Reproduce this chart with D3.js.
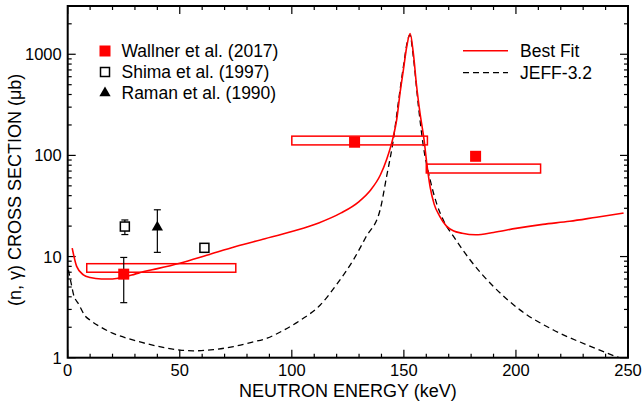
<!DOCTYPE html>
<html>
<head>
<meta charset="utf-8">
<script src="https://cdn.jsdelivr.net/npm/d3@7"></script>
<style>
body { margin: 0; background: white; }
text { font-family: "Liberation Sans", Arial, sans-serif; fill: black; }
</style>
</head>
<body>
<div id="plot"></div>
<script>
// Wallner et al. (2017) points + energy bins
var wallnerE = [25, 128, 182];
var wallnerS = [6.7, 135, 98];
var wallnerLo = [3.5, null, null];
var wallnerHi = [9.8, null, null];
var binELo = [8.5, 100, 160];
var binEHi = [75, 160.5, 211];
var binSLo = [7.0, 127, 67];
var binSHi = [8.5, 155, 82];

// Shima et al. (1997)
var shimaE = [25.5, 61];
var shimaS = [19.8, 12.2];
var shimaLo = [16.5, 11.4];
var shimaHi = [23, 13.0];

// Raman et al. (1990)
var ramanE = [40];
var ramanS = [19.5];
var ramanLo = [11];
var ramanHi = [29];

// Best Fit curve
var fitE = [2, 4, 7, 10, 15, 20, 25, 30, 34, 40, 50, 62, 75, 88, 100, 112, 122, 130, 135, 139.5, 142.3, 145.3, 146.8, 148.3, 149.8, 151.3, 152.8, 154.2, 155.7, 157.2, 159, 160.2, 161.7, 163.5, 166, 169, 172, 176, 182, 190, 200, 212, 224, 236, 248];
var fitS = [12.1, 8.0, 6.6, 6.2, 6.0, 6.0, 6.25, 6.7, 7.1, 7.6, 8.6, 10.3, 12.6, 15, 17.7, 21.5, 27, 35, 45, 64, 91, 154, 226, 415, 705, 1200, 1603, 1030, 480, 262, 143, 84, 49, 33, 25, 20, 18, 17, 16.4, 17.3, 19, 20.8, 22.3, 24.5, 26.9];

// JEFF-3.2 evaluation
var jeffE = [0.3, 1.5, 2.5, 5, 7.7, 10, 14.4, 20, 29, 40, 50, 56, 65, 74, 82, 89, 96, 104, 112.6, 120, 127.5, 133, 139.4, 142.3, 145.3, 147.5, 149.8, 152, 152.7, 154.2, 156.5, 158.7, 161.7, 164.7, 168, 172, 179.5, 190, 201.8, 216.7, 231.6, 245, 250];
var jeffS = [7.4, 5.5, 4.3, 3.35, 2.6, 2.35, 2.03, 1.75, 1.5, 1.3, 1.19, 1.17, 1.2, 1.29, 1.42, 1.56, 1.85, 2.36, 3.3, 5.3, 9.3, 15.5, 29, 62, 143, 330, 760, 1460, 1550, 950, 305, 123, 57.5, 33, 22, 16, 9.3, 5.05, 2.97, 1.88, 1.34, 1.02, 0.93];

var xTicks = [0, 50, 100, 150, 200, 250];
var yTicks = [1, 10, 100, 1000];

var W = 642, H = 403;
var pLeft = 67.7, pRight = 628, pTop = 6, pBottom = 357.7;
var red = "#ff0000";

var svg = d3.select("#plot").append("svg")
    .attr("width", W)
    .attr("height", H);

var x = d3.scaleLinear().domain([0, 250]).range([pLeft, pRight]);
var y = d3.scaleLog().domain([1, 3000]).range([pBottom, pTop]);

// minor ticks
var xMinor = d3.range(0, 251, 10).filter(function(d){ return d % 50 != 0; });
var yMinor = [];
[1, 10, 100, 1000].forEach(function(dec){
    for (var k = 2; k <= 9; k++) { if (dec * k <= 3000) yMinor.push(dec * k); }
});

var axes = svg.append("g").attr("stroke", "black").attr("stroke-width", 1.2);
// bottom + top ticks (inward)
[[pBottom, -1], [pTop, 1]].forEach(function(s){
    axes.append("g").selectAll("line").data(xTicks).enter().append("line")
        .attr("x1", function(d){ return x(d); }).attr("x2", function(d){ return x(d); })
        .attr("y1", s[0]).attr("y2", s[0] + s[1] * 8);
    axes.append("g").selectAll("line").data(xMinor).enter().append("line")
        .attr("x1", function(d){ return x(d); }).attr("x2", function(d){ return x(d); })
        .attr("y1", s[0]).attr("y2", s[0] + s[1] * 4);
});
// left + right ticks
[[pLeft, 1], [pRight, -1]].forEach(function(s){
    axes.append("g").selectAll("line").data(yTicks).enter().append("line")
        .attr("x1", s[0]).attr("x2", s[0] + s[1] * 8)
        .attr("y1", function(d){ return y(d); }).attr("y2", function(d){ return y(d); });
    axes.append("g").selectAll("line").data(yMinor).enter().append("line")
        .attr("x1", s[0]).attr("x2", s[0] + s[1] * 4)
        .attr("y1", function(d){ return y(d); }).attr("y2", function(d){ return y(d); });
});

// tick labels
svg.append("g").selectAll("text").data(xTicks).enter().append("text")
    .attr("x", function(d){ return x(d); })
    .attr("y", pBottom + 18)
    .attr("text-anchor", "middle")
    .style("font-size", "16.5px")
    .text(function(d){ return d; });
svg.append("g").selectAll("text").data(yTicks).enter().append("text")
    .attr("x", pLeft - 6)
    .attr("y", function(d){ return y(d) + 6; })
    .attr("text-anchor", "end")
    .style("font-size", "16.5px")
    .text(function(d){ return d; });

// axis titles
svg.append("text")
    .attr("x", (pLeft + pRight) / 2).attr("y", 397)
    .attr("text-anchor", "middle")
    .style("font-size", "18px")
    .text("NEUTRON ENERGY (keV)");
svg.append("text")
    .attr("transform", "translate(21," + ((pTop + pBottom) / 2 + 8) + ") rotate(-90)")
    .attr("text-anchor", "middle")
    .style("font-size", "18px")
    .text("(n, \u03b3) CROSS SECTION (\u03bcb)");

// clip for curves
svg.append("clipPath").attr("id", "clip")
  .append("rect").attr("x", pLeft).attr("y", pTop).attr("width", pRight - pLeft).attr("height", pBottom - pTop);

var line = d3.line()
    .x(function(d){ return x(d[0]); })
    .y(function(d){ return y(d[1]); })
    .curve(d3.curveMonotoneX);

var plot = svg.append("g").attr("clip-path", "url(#clip)");
plot.append("path")
    .datum(d3.zip(jeffE, jeffS))
    .attr("d", line)
    .attr("fill", "none")
    .attr("stroke", "black")
    .attr("stroke-width", 1.3)
    .attr("stroke-dasharray", "6,4");
plot.append("path")
    .datum(d3.zip(fitE, fitS))
    .attr("d", line)
    .attr("fill", "none")
    .attr("stroke", red)
    .attr("stroke-width", 1.6);

// energy bins of the activation data
svg.append("g").selectAll("rect").data(d3.range(binELo.length)).enter().append("rect")
    .attr("x", function(i){ return x(binELo[i]); })
    .attr("width", function(i){ return x(binEHi[i]) - x(binELo[i]); })
    .attr("y", function(i){ return y(binSHi[i]); })
    .attr("height", function(i){ return y(binSLo[i]) - y(binSHi[i]); })
    .attr("fill", "none")
    .attr("stroke", red)
    .attr("stroke-width", 1.5);

// error bars
function errorBars(E, lo, hi){
    var g = svg.append("g").attr("stroke", "black").attr("stroke-width", 1.2);
    E.forEach(function(e, i){
        if (lo[i] == null) return;
        g.append("line").attr("x1", x(e)).attr("x2", x(e)).attr("y1", y(lo[i])).attr("y2", y(hi[i]));
        [lo[i], hi[i]].forEach(function(v){
            g.append("line").attr("x1", x(e) - 3.5).attr("x2", x(e) + 3.5).attr("y1", y(v)).attr("y2", y(v));
        });
    });
}
errorBars(wallnerE, wallnerLo, wallnerHi);
errorBars(shimaE, shimaLo, shimaHi);
errorBars(ramanE, ramanLo, ramanHi);

// markers
svg.append("g").selectAll("rect").data(d3.range(wallnerE.length)).enter().append("rect")
    .attr("x", function(i){ return x(wallnerE[i]) - 5.5; })
    .attr("y", function(i){ return y(wallnerS[i]) - 5.5; })
    .attr("width", 11).attr("height", 11)
    .attr("fill", red);
svg.append("g").selectAll("rect").data(d3.range(shimaE.length)).enter().append("rect")
    .attr("x", function(i){ return x(shimaE[i]) - 4.5; })
    .attr("y", function(i){ return y(shimaS[i]) - 4.5; })
    .attr("width", 9).attr("height", 9)
    .attr("fill", "white").attr("stroke", "black").attr("stroke-width", 1.5);
svg.append("g").selectAll("path").data(d3.range(ramanE.length)).enter().append("path")
    .attr("transform", function(i){ return "translate(" + x(ramanE[i]) + "," + y(ramanS[i]) + ")"; })
    .attr("d", d3.symbol().type(d3.symbolTriangle).size(55))
    .attr("fill", "black");

// legend (left)
var lg = svg.append("g");
lg.append("rect").attr("x", 99.5).attr("y", 45.5).attr("width", 11).attr("height", 11).attr("fill", red);
lg.append("rect").attr("x", 100.5).attr("y", 67.5).attr("width", 9).attr("height", 9)
    .attr("fill", "white").attr("stroke", "black").attr("stroke-width", 1.5);
lg.append("path").attr("transform", "translate(105,93)")
    .attr("d", d3.symbol().type(d3.symbolTriangle).size(55)).attr("fill", "black");
var names = ["Wallner et al. (2017)", "Shima et al. (1997)", "Raman et al. (1990)"];
lg.selectAll("text").data(names).enter().append("text")
    .attr("x", 121.5)
    .attr("y", function(d, i){ return 57.3 + i * 21; })
    .style("font-size", "17.5px")
    .text(function(d){ return d; });

// legend (right)
var lr = svg.append("g");
lr.append("line").attr("x1", 463).attr("x2", 508).attr("y1", 50.7).attr("y2", 50.7)
    .attr("stroke", red).attr("stroke-width", 1.6);
lr.append("line").attr("x1", 463).attr("x2", 508).attr("y1", 72.7).attr("y2", 72.7)
    .attr("stroke", "black").attr("stroke-width", 1.3).attr("stroke-dasharray", "6,4");
lr.append("text").attr("x", 520).attr("y", 57).style("font-size", "17.5px").text("Best Fit");
lr.append("text").attr("x", 520).attr("y", 79).style("font-size", "17.5px").text("JEFF-3.2");

// frame
svg.append("rect")
    .attr("x", pLeft).attr("y", pTop)
    .attr("width", pRight - pLeft).attr("height", pBottom - pTop)
    .attr("fill", "none")
    .attr("stroke", "black")
    .attr("stroke-width", 2);
</script>
</body>
</html>
